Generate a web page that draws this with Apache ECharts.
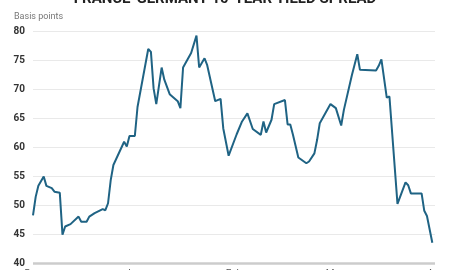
<!DOCTYPE html>
<html>
<head>
<meta charset="utf-8">
<script src="https://cdn.jsdelivr.net/npm/echarts@6/dist/echarts.min.js"></script>
<style>html,body{margin:0;padding:0;background:#fff;}#c{width:450px;height:270px;}</style>
</head>
<body>
<div id="c"></div>
<script>
// Trading-day index from start of period (x) and spread in basis points (y)
const days = [0,1,2,4,5,7,8,10,11,12,14,17,18,20,21,23,26,27,28,29,30,34,35,36,38,39,43,44,45,46,48,49,51,54,55,56,59,61,62,64,65,68,70,71,73,76,78,80,82,85,86,87,89,90,94,95,96,97,99,102,103,105,106,107,111,113,115,116,119,121,122,128,129,130,132,133,136,139,140,141,145,146,147,149];
const spread = [48.2,51.4,53.3,54.9,53.3,52.9,52.3,52.1,44.9,46.3,46.7,48.0,47.1,47.1,48.0,48.6,49.3,49.1,50.3,54.3,56.9,60.9,60.1,61.9,61.9,66.9,76.9,76.4,70.1,67.4,73.7,71.6,69.1,67.9,66.7,73.7,76.2,79.2,73.7,75.3,74.1,67.9,68.3,63.2,58.5,62.2,64.4,65.8,63.1,62.1,64.4,62.5,64.7,67.4,68.1,63.9,63.9,62.1,58.2,57.2,57.5,58.9,61.2,64.1,67.4,66.7,63.7,66.4,72.4,76.0,73.3,73.2,74.0,75.1,68.5,68.7,50.2,53.9,53.4,52.0,52.0,49.0,48.1,43.5];
const xTickLabels = ['Dec', 'Jan', 'Feb', 'Mar', 'Apr'];
const titleText = 'FRANCE-GERMANY 10-YEAR YIELD SPREAD';
const unitText = 'Basis points';

const chart = echarts.init(document.getElementById('c'), null, {renderer: 'canvas'});
chart.setOption({
  animation: false,
  backgroundColor: '#ffffff',
  textStyle: {fontFamily: 'Roboto'},
  grid: {left: 33, right: 15, top: 31, bottom: 7, containLabel: false, outerBoundsMode: 'none'},
  graphic: [
    {type: 'text', left: 'center', top: -8.5,
     style: {text: titleText, fontSize: 15, fontWeight: 'bold', fontFamily: 'Roboto', fill: '#222'}},
    {type: 'text', left: 14, top: 12,
     style: {text: unitText, fontSize: 9, fontFamily: 'Roboto', fill: '#777'}}
  ],
  xAxis: {
    type: 'value', min: 0, max: 150, interval: 37.5,
    axisLine: {show: false},
    axisTick: {show: false},
    splitLine: {show: false},
    axisLabel: {margin: 6, fontSize: 10, color: '#555',
      formatter: function (v) { return xTickLabels[Math.round(v / 37.5)] || ''; }}
  },
  yAxis: {
    type: 'value', min: 40, max: 80, interval: 5,
    axisLine: {show: false},
    axisTick: {show: false},
    axisLabel: {margin: 8, fontSize: 10, fontWeight: 'bold', color: '#333'},
    splitLine: {lineStyle: {color: '#e9e9e9', width: 1}}
  },
  series: [{
    type: 'line',
    data: days.map((d, i) => [d, spread[i]]),
    showSymbol: false,
    lineStyle: {color: '#1f6384', width: 2},
    markLine: {
      silent: true, symbol: 'none', label: {show: false},
      lineStyle: {color: '#cccccc', width: 2.5, type: 'solid'},
      data: [{yAxis: 40}]
    },
    z: 3
  }]
});
</script>
</body>
</html>
